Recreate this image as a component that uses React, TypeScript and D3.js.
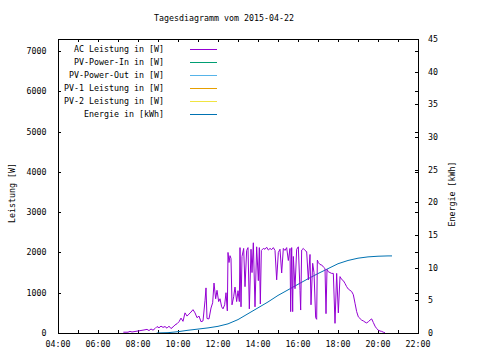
import React from "react";
import * as d3 from "d3";

const title = "Tagesdiagramm vom 2015-04-22";
const xTickLabels = ["04:00", "06:00", "08:00", "10:00", "12:00", "14:00", "16:00", "18:00", "20:00", "22:00"];
const y1Ticks = [0, 1000, 2000, 3000, 4000, 5000, 6000, 7000];
const y2Ticks = [0, 5, 10, 15, 20, 25, 30, 35, 40, 45];

const seriesNames = [
  "AC Leistung in [W]",
  "PV-Power-In in [W]",
  "PV-Power-Out in [W]",
  "PV-1 Leistung in [W]",
  "PV-2 Leistung in [W]",
  "Energie in [kWh]",
];
const seriesColors = ["#9400d3", "#009e73", "#56b4e9", "#e69f00", "#f0e442", "#0072b2"];

const acTimes = [
  "07:16","07:30","07:36","07:42","08:18","08:27","08:33","08:39","08:45","08:51","08:57",
  "09:03","09:09","09:15","09:21","09:27","09:33","09:39","09:45","09:51","09:57",
  "10:03","10:09","10:15","10:21","10:27","10:33","10:39","10:45","10:51","10:57",
  "11:03","11:09","11:15","11:21","11:24","11:27","11:33","11:39","11:44","11:48","11:53","11:57",
  "12:02","12:06","12:11","12:15","12:20","12:24","12:28","12:30","12:33","12:36","12:39","12:42","12:47","12:51","12:56",
  "13:00","13:04","13:06","13:09","13:12","13:17","13:21","13:26","13:30","13:34","13:39","13:42","13:46","13:51","13:56",
  "14:01","14:04","14:07","14:10","14:16","14:21","14:26","14:31","14:36","14:41","14:46","14:51","14:56",
  "15:01","15:06","15:11","15:16","15:21","15:26","15:31","15:36","15:38","15:41","15:44","15:46","15:51","15:56",
  "16:01","16:06","16:08","16:11","16:16","16:21","16:26","16:31","16:36","16:39","16:44","16:48","16:53","16:56","16:58",
  "17:01","17:06","17:11","17:16","17:21","17:24","17:27","17:31","17:36","17:41","17:46","17:51","17:56",
  "18:01","18:06","18:11","18:16","18:21","18:26","18:31","18:36","18:41","18:46","18:51","18:56",
  "19:01","19:06","19:11","19:16","19:21","19:26","19:31","19:36","19:41","19:46","19:51","19:56",
  "20:01","20:06","20:11","20:16","20:21",
];
const acValues = [
  20,20,40,25,75,90,60,100,70,110,160,
  130,170,140,160,120,170,110,150,200,230,
  280,370,290,500,420,470,520,580,500,380,
  420,280,300,800,1120,360,350,620,750,1240,850,1060,
  780,850,650,600,700,1000,550,2000,1750,1920,1850,700,900,1140,780,
  1050,780,2120,650,1900,2100,1150,2050,2120,600,2080,1500,2240,650,2140,
  1300,2120,720,2050,2100,2080,2130,2060,2100,2070,2120,2050,1320,
  2000,2080,1490,2100,2050,2120,1800,2100,530,2120,530,1900,1100,2080,
  2140,1050,570,2060,2100,2050,2020,1320,1950,700,1730,1500,380,340,1810,
  1750,1700,1690,1640,1600,480,1580,1520,1500,1480,1480,240,1480,
  500,1400,1330,1300,1230,1150,1090,1060,1030,950,740,530,
  400,360,320,300,270,250,280,320,350,260,170,110,
  70,50,40,20,5,
];

const energyTimes = [
  "08:56","09:30","10:00","10:30","11:00","11:30","12:00","12:30","13:00","13:30",
  "14:00","14:30","15:00","15:30","16:00","16:30","17:00","17:30","18:00","18:30",
  "19:00","19:30","20:00","20:30","20:42",
];
const energyValues = [
  0,0.05,0.2,0.42,0.6,0.78,1.02,1.4,2.05,2.95,
  3.85,4.75,5.75,6.6,7.45,8.3,9.1,9.85,10.6,11.1,
  11.45,11.65,11.75,11.8,11.8,
];

const toHours = (s: string) => {
  const [h, m] = s.split(":").map(Number);
  return h + m / 60;
};

const FONT = "'DejaVu Sans Mono', monospace";
const FS = 8.3;

export default function App() {
  const W = 480, H = 360;
  const L = 58, R = 418, T = 39, B = 333;
  const x = d3.scaleLinear().domain([4, 22]).range([L, R]);
  const y1 = d3.scaleLinear().domain([0, 7300]).range([B, T]);
  const y2 = d3.scaleLinear().domain([0, 45]).range([B, T]);

  const acData = acTimes.map((t, i) => [toHours(t), acValues[i]] as [number, number]);
  const enData = energyTimes.map((t, i) => [toHours(t), energyValues[i]] as [number, number]);

  const acLine = d3.line<[number, number]>()
    .x(d => x(d[0])).y(d => y1(d[1]));
  const enLine = d3.line<[number, number]>()
    .x(d => x(d[0])).y(d => y2(d[1]));

  const hourTicks = d3.range(4, 23, 1);
  const tk = 3;

  return (
    <svg width={W} height={H} style={{ position: "absolute", left: 0, top: 0, background: "#fff" }}
      fontFamily={FONT} fontSize={FS}>
      <rect x={0} y={0} width={W} height={H} fill="#fff" />
      <text x={224} y={20.5} textAnchor="middle">{title}</text>

      {hourTicks.map(h => (
        <g key={"xt" + h} stroke="#000" shapeRendering="crispEdges">
          <line x1={Math.round(x(h)) + 0.5} x2={Math.round(x(h)) + 0.5} y1={B} y2={B - tk} />
          <line x1={Math.round(x(h)) + 0.5} x2={Math.round(x(h)) + 0.5} y1={T} y2={T + tk} />
        </g>
      ))}
      {xTickLabels.map(lbl => (
        <text key={lbl} x={x(toHours(lbl))} y={347} textAnchor="middle">{lbl}</text>
      ))}

      {y1Ticks.map(v => (
        <g key={"y1" + v}>
          <line x1={L} x2={L + tk} y1={Math.round(y1(v)) + 0.5} y2={Math.round(y1(v)) + 0.5} stroke="#000" shapeRendering="crispEdges" />
          <line x1={R} x2={R - tk} y1={Math.round(y1(v)) + 0.5} y2={Math.round(y1(v)) + 0.5} stroke="#000" shapeRendering="crispEdges" />
          <text x={46.5} y={y1(v) + 3} textAnchor="end">{v}</text>
        </g>
      ))}
      {y2Ticks.map(v => (
        <g key={"y2" + v}>
          <line x1={R} x2={R - tk} y1={Math.round(y2(v)) + 0.5} y2={Math.round(y2(v)) + 0.5} stroke="#000" shapeRendering="crispEdges" />
          <text x={428} y={y2(v) + 3} textAnchor="start">{v}</text>
        </g>
      ))}

      <text transform="translate(15,193) rotate(-90)" textAnchor="middle">Leistung [W]</text>
      <text transform="translate(454.5,194) rotate(-90)" textAnchor="middle">Energie [kWh]</text>

      <path d={enLine(enData) || ""} fill="none" stroke={seriesColors[5]} strokeWidth={1} />
      <path d={acLine(acData) || ""} fill="none" stroke={seriesColors[0]} strokeWidth={1} />

      <rect x={L + 0.5} y={T + 0.5} width={R - L} height={B - T} fill="none" stroke="#000" shapeRendering="crispEdges" />

      {seriesNames.map((name, i) => {
        const cy = 49 + i * 13;
        return (
          <g key={name}>
            <text x={164} y={cy + 3} textAnchor="end">{name}</text>
            <line x1={190} x2={217} y1={cy + 0.5} y2={cy + 0.5} stroke={seriesColors[i]} shapeRendering="crispEdges" />
          </g>
        );
      })}
    </svg>
  );
}
